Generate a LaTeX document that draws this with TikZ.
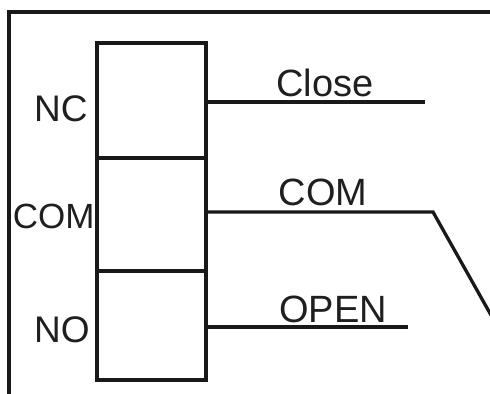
\documentclass[tikz,border=0pt]{standalone}
\usepackage{fontspec}
\setmainfont{Liberation Sans}
\usetikzlibrary{positioning}
\tikzset{
  cell/.style={rectangle, draw=black!90, line width=1.65pt, minimum width=54.5pt, minimum height=56.5pt, inner sep=0pt, outer sep=0pt},
  pinlabel/.style={font=\fontsize{19}{21}\selectfont, inner sep=0pt, text=black!88},
  sidelabel/.style={pinlabel, font=\fontsize{18.5}{20}\selectfont, anchor=base east},
  wire/.style={line width=1.65pt, draw=black!90}
}
\begin{document}
\begin{tikzpicture}[x=0.5pt, y=-0.5pt]
        \useasboundingbox (0,0) rectangle (490,394);

        % Marco
        \coordinate (frameBL) at (9,400);
        \coordinate (frameTL) at (9,12);
        \coordinate (frameTR) at (495,12);
        \draw [wire, line width=1.8pt] (frameBL) -- (frameTL) -- (frameTR);

        % Bloque del rele
        \node (cellNC) [cell, minimum height=57.5pt, anchor=north west] at (97,43) {};
        \node (cellCOM) [cell, below=0pt of cellNC] {};
        \node (cellNO) [cell, minimum height=54.5pt, below=0pt of cellCOM] {};

        % Etiquetas del bloque
        \node (lblNC) [sidelabel] at (88,122) {NC};
        \node (lblCOM) [sidelabel, font=\fontsize{17.5}{19}\selectfont] at (95,228) {COM};
        \node (lblNO) [sidelabel] at (90,342) {NO};

        % Salidas
        \coordinate (closeEnd) at (425,102);
        \coordinate (comBend) at (433,212);
        \coordinate (comEnd) at (496,324);
        \coordinate (openEnd) at (408,327);

        \draw [wire] ([yshift=-0.75pt]cellNC.east) -- (closeEnd);
        \draw [wire] ([yshift=1.25pt]cellCOM.east) -- (comBend) -- (comEnd);
        \draw [wire] ([yshift=-0.75pt]cellNO.east) -- (openEnd);

        \node (lblClose) [pinlabel, anchor=base] at (325,97) {Close};
        \node (lblCom) [pinlabel, anchor=base] at (323,206) {COM};
        \node (lblOpen) [pinlabel, anchor=base] at (333,322) {OPEN};
\end{tikzpicture}
\end{document}
